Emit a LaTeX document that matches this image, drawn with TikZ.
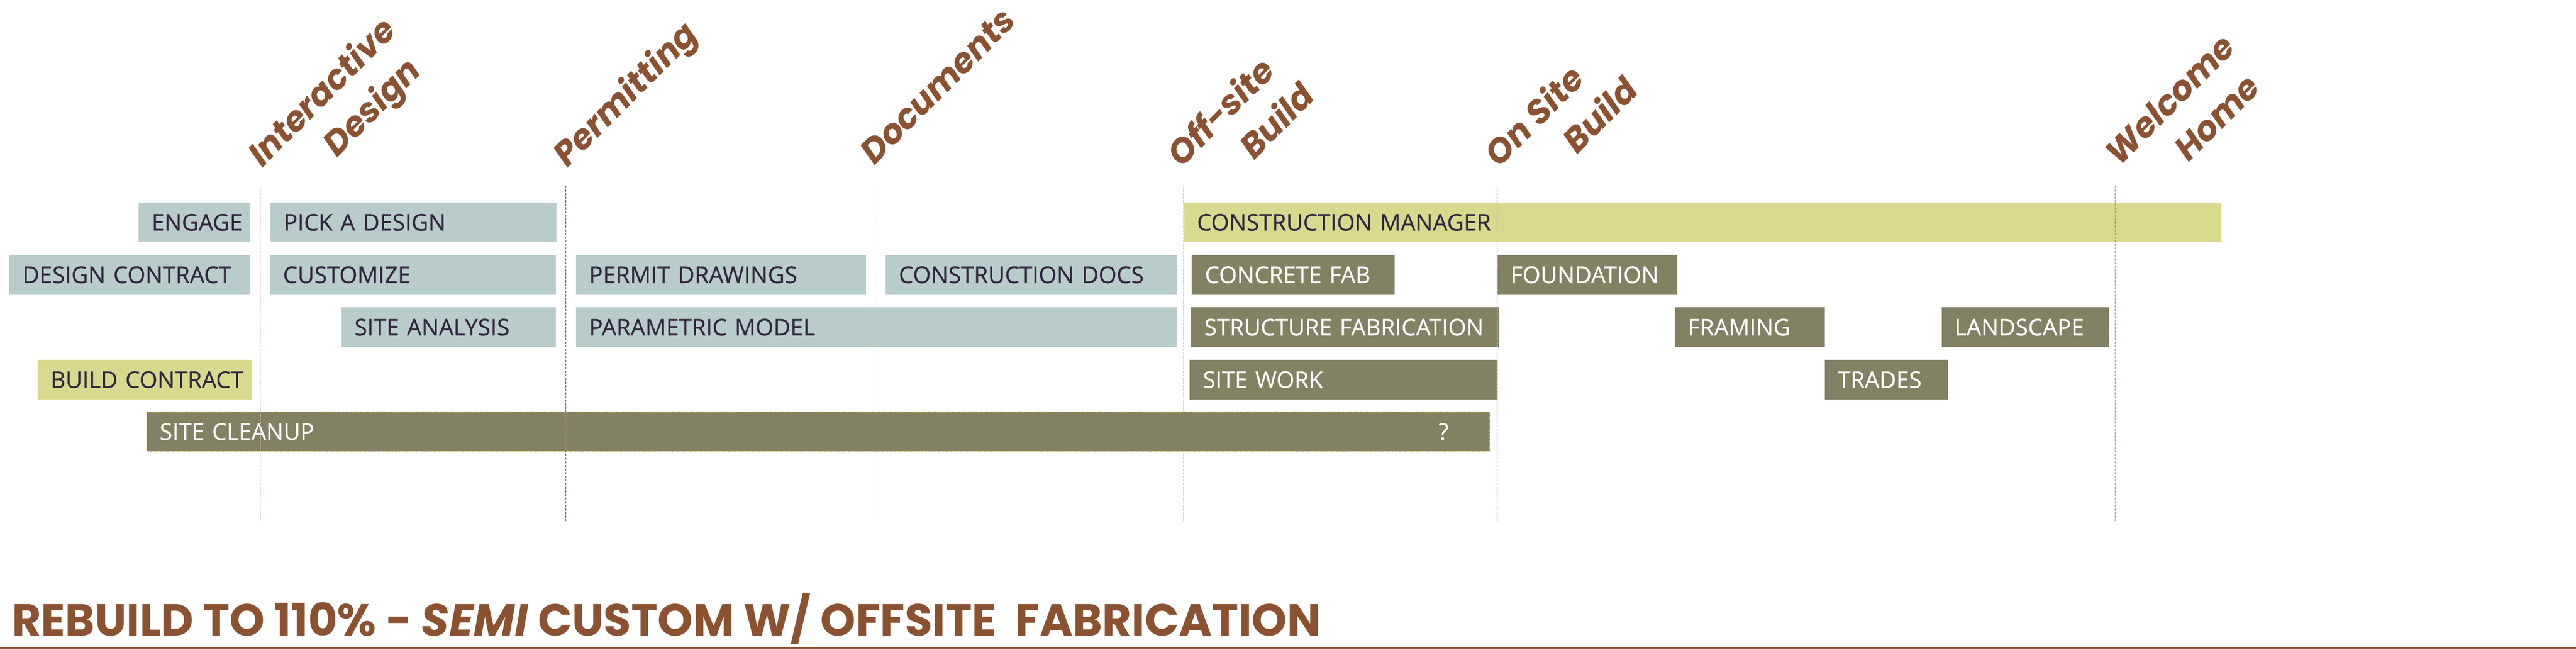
\documentclass[tikz,border=0pt]{standalone}
\usepackage{fontspec}
\setmainfont{Open Sans}
\newfontfamily\milefont{Poppins}
\newfontfamily\barfont{Open Sans}[FakeBold=0.35]
\usetikzlibrary{positioning}
\definecolor{barblue}{HTML}{B9CCCC}
\definecolor{baryellow}{HTML}{D9D98E}
\definecolor{barolive}{HTML}{838163}
\definecolor{ink}{HTML}{30263F}
\definecolor{rust}{HTML}{8B5232}
\definecolor{cleanupedge}{HTML}{E8CF5E}

\begin{document}
\begin{tikzpicture}[bar/.style={anchor=west, minimum height=0.82cm, inner ysep=0pt, inner xsep=0.27cm, align=left, font=\barfont\fontsize{13.6}{16}\selectfont, execute at begin node=\hbox\bgroup, execute at end node=\egroup}, design/.style={bar, fill=barblue, text=ink}, contract/.style={bar, fill=baryellow, text=ink}, build/.style={bar, fill=barolive, text=white}, milestone/.style={anchor=north west, rotate=45, inner sep=0pt, align=left, text=rust, font=\milefont\bfseries\itshape\fontsize{20}{27}\selectfont}, guide/.style={dash pattern=on 0.05cm off 0.025cm, line width=0.015cm}]
    \useasboundingbox (0,0) rectangle (53.32,-13.44);

    % milestones
    \node[milestone] (interactive) at (5.02,-3.08) {Interactive\\\hspace*{1.25cm}Design};
    \node[milestone] (permitting) at (11.34,-3.08) {Permitting};
    \node[milestone] (documents) at (17.74,-3.08) {Documents};
    \node[milestone] (offsite) at (24.05,-3.08) {Off-site\\\hspace*{1.17cm}Build};
    \node[milestone] (onsite) at (30.62,-3.08) {On Site\\\hspace*{1.34cm}Build};
    \node[milestone] (welcome) at (43.50,-3.08) {Welcome\\\hspace*{1.07cm}Home};

    % row 1
    \node[design, text width=1.78cm] (engage) at (2.86,-4.60) {ENGAGE};
    \node[design, text width=5.38cm, right=0.40cm of engage] (pick) {PICK A DESIGN};
    \node[contract, text width=20.93cm] (manager) at (24.50,-4.60) {CONSTRUCTION MANAGER};

    % row 2
    \node[design, text width=4.45cm] (dcontract) at (0.19,-5.685) {DESIGN CONTRACT};
    \node[design, text width=5.38cm] (customize) at (5.58,-5.685) {CUSTOMIZE};
    \node[design, text width=5.47cm, right=0.40cm of customize] (permit) {PERMIT DRAWINGS};
    \node[design, text width=5.49cm, right=0.39cm of permit] (cdocs) {CONSTRUCTION DOCS};
    \node[build, text width=3.66cm, right=0.29cm of cdocs] (concrete) {CONCRETE FAB};
    \node[build, text width=3.17cm] (foundation) at (30.99,-5.685) {FOUNDATION};

    % row 3
    \node[design, text width=3.90cm] (analysis) at (7.06,-6.77) {SITE ANALYSIS};
    \node[design, text width=11.89cm, right=0.40cm of analysis] (parametric) {PARAMETRIC MODEL};
    \node[build, text width=5.83cm, right=0.29cm of parametric] (structure) {STRUCTURE FABRICATION};
    \node[build, text width=2.56cm] (framing) at (34.66,-6.77) {FRAMING};
    \node[build, text width=2.93cm] (landscape) at (40.18,-6.77) {LANDSCAPE};

    % row 4
    \node[contract, text width=3.89cm] (bcontract) at (0.77,-7.855) {BUILD CONTRACT};
    \node[build, text width=5.83cm] (sitework) at (24.62,-7.855) {SITE WORK};
    \node[build, text width=2.01cm] (trades) at (37.76,-7.855) {TRADES};

    % row 5
    \node[build, text width=27.26cm, draw=cleanupedge, dash pattern=on 0.03cm off 0.02cm, line width=0.01cm] (cleanup) at (3.03,-8.93) {SITE CLEANUP};
    \node[text=white, font=\barfont\fontsize{13.6}{16}\selectfont] (unknown) at (29.88,-8.93) {?};

    \foreach \x/\s in {5.39/30, 11.71/75, 18.11/75, 24.50/75, 30.99/40, 43.78/75}
        \draw[guide, draw=rust!\s] (\x,-3.84) -- (\x,-10.78);

    \node[anchor=base west, inner sep=0pt, text=rust, font=\milefont\bfseries\fontsize{26.4}{32}\selectfont] (title) at (0.24,-13.15) {REBUILD TO 110\% - \textit{SEMI} CUSTOM W/ OFFSITE\ \ FABRICATION};
    \coordinate (ruleL) at (0,-13.415);
    \coordinate (ruleR) at (53.32,-13.415);
    \draw[rust, line width=0.05cm] (ruleL) -- (ruleR);
\end{tikzpicture}
\end{document}
